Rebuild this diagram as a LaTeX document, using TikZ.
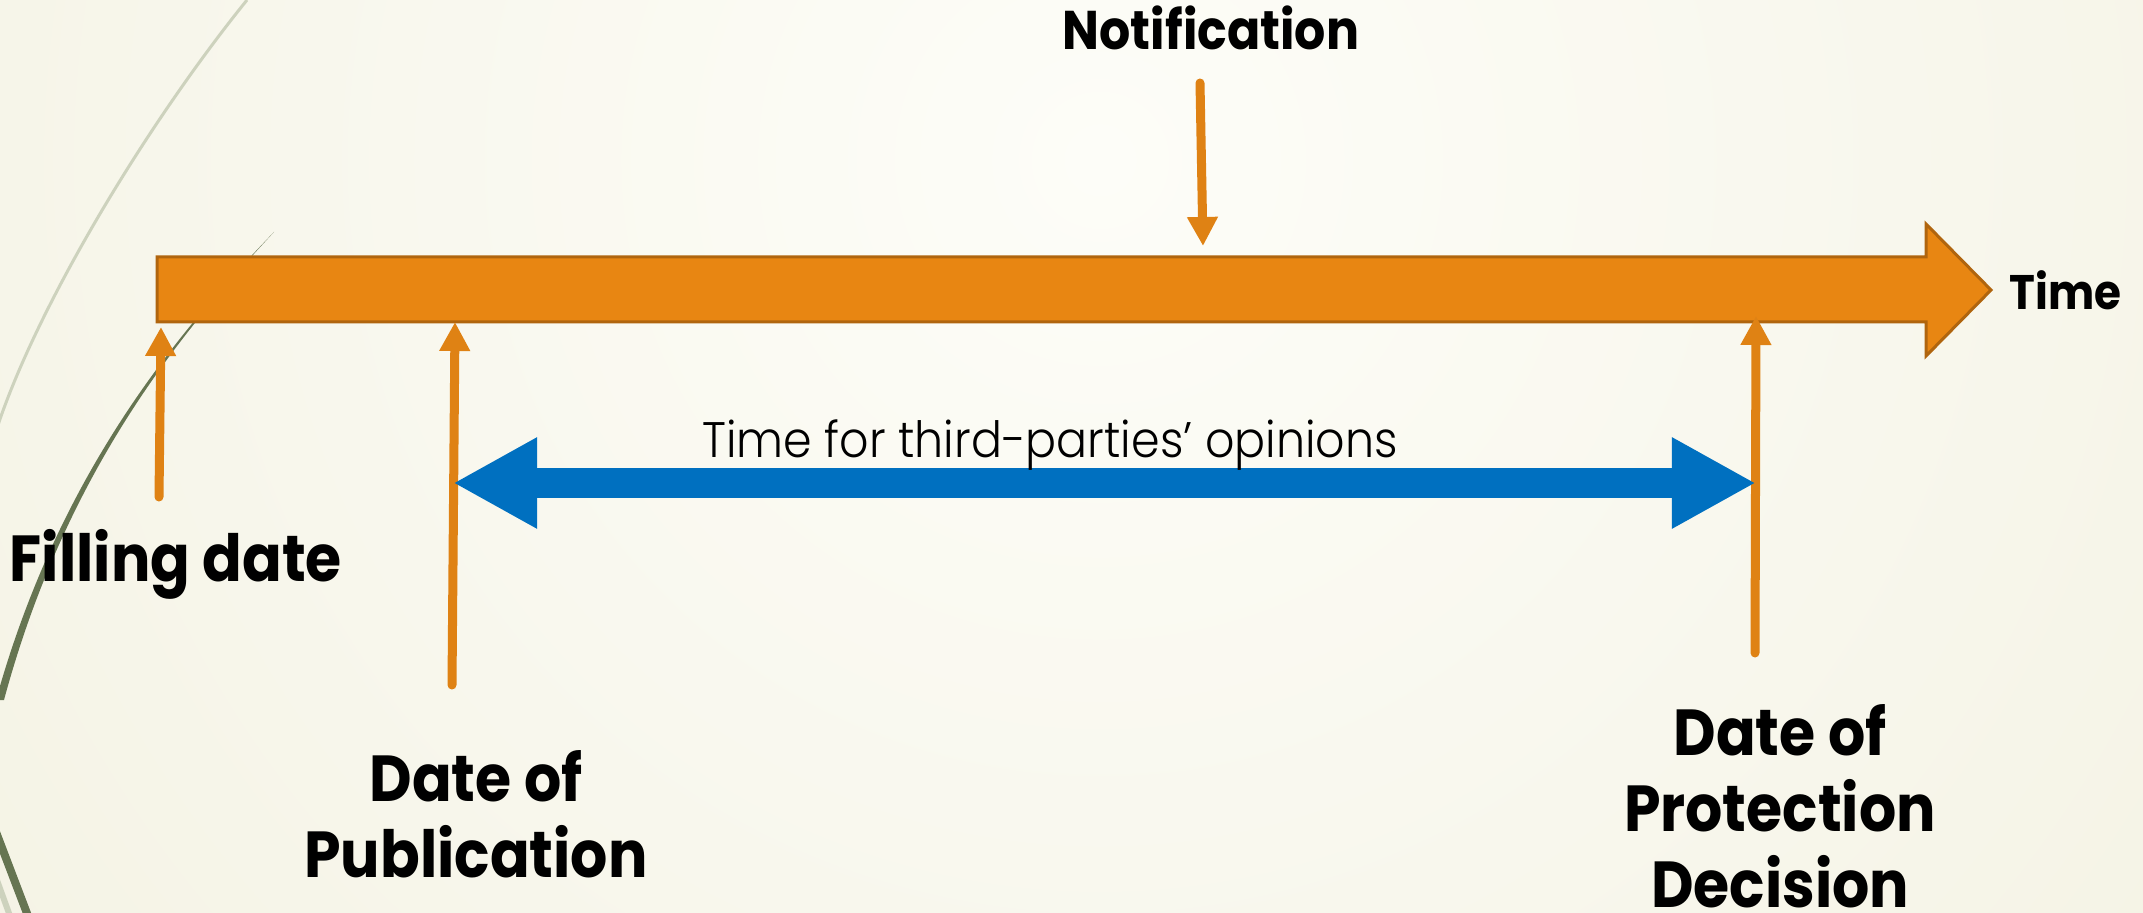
\documentclass[tikz,border=0pt]{standalone}
\usepackage{fontspec}
\setmainfont{Poppins}[FakeStretch=0.9]
\newfontfamily\thinfont{Poppins}[UprightFont=* Light, FakeStretch=0.92]
\usepackage{tikz}
\usetikzlibrary{arrows.meta,positioning,calc}
\definecolor{paper}{RGB}{237,234,212}
\definecolor{paperlight}{RGB}{253,253,248}
\definecolor{barorange}{RGB}{232,134,18}
\definecolor{baredge}{RGB}{176,101,14}
\definecolor{tickorange}{RGB}{223,130,20}
\definecolor{spanblue}{RGB}{0,112,192}
\definecolor{wispdark}{RGB}{102,117,82}
\definecolor{wisplight}{RGB}{205,210,189}
\tikzset{
    timebar/.style={
        fill=barorange,
        draw=baredge,
        line width=0.03cm
    },
    marker/.style={
        -{Triangle[width=0.29cm,length=0.29cm]},
        draw=tickorange,
        line width=0.09cm,
        line cap=round
    },
    span/.style={
        {Triangle[width=0.85cm,length=0.84cm]}-{Triangle[width=0.85cm,length=0.84cm]},
        draw=spanblue,
        line width=0.29cm
    },
    biglabel/.style={
        inner sep=0pt,
        align=center,
        font=\bfseries\fontsize{18.5}{21.5}\selectfont
    }
}

\begin{document}
\begin{tikzpicture}[x=0.01cm, y=-0.01cm]
\useasboundingbox (0,0) rectangle (2143,913);

% background and wisps
\begin{scope}
\clip (0,0) rectangle (2143,913);
\shade[inner color=paperlight, outer color=paper] (1100,160) circle (2600);
\draw[wisplight, line width=0.03cm] (247,0) .. controls (150,120) and (40,300) .. (-2,425);
\fill[wispdark] (274,232) .. controls (180,330) and (60,470) .. (-4,700) -- (4,700) .. controls (66,470) and (182,331) .. (274,232) -- cycle;
\draw[wisplight, line width=0.06cm] (-6,872) -- (10,916);
\draw[wispdark, line width=0.08cm] (-4,832) -- (28,916);
\end{scope}

% Time bar
\draw[timebar] (157,257) -- (1926,257) -- (1926,224) -- (1991,290) coordinate (bar-tip)
    -- (1926,356) -- (1926,322) -- (157,322) -- cycle;
\node[inner sep=0pt, right=0.18cm of bar-tip, font=\bfseries\fontsize{13.8}{16}\selectfont] (time) {Time};

% Notification
\node[inner sep=0pt, anchor=base, font=\bfseries\fontsize{15.5}{18}\selectfont] (notification) at (1211,50) {Notification};
\coordinate (notif-foot) at (1200,83);
\coordinate (notif-hit) at (1203,246);
\draw[marker] (notif-foot) -- (notif-hit);

% Filling date
\node[biglabel, anchor=base] (filing) at (176,581) {Filling date};
\coordinate (filing-foot) at (159,497);
\coordinate (filing-hit) at (161,327);
\draw[marker] (filing-foot) -- (filing-hit);

% Date of Publication
\node[biglabel, anchor=base] (publication) at (476,877) {Date of\\Publication};
\coordinate (pub-foot) at (452,685);
\coordinate (pub-hit) at (455,322);
\draw[marker] (pub-foot) -- (pub-hit);

% Date of Protection Decision
\node[biglabel, anchor=base] (protection) at (1780,907) {Date of\\Protection\\Decision};
\coordinate (prot-foot) at (1755,653);
\coordinate (prot-hit) at (1756,316);
\draw[marker] (prot-foot) -- (prot-hit);

% third-party window
\coordinate (span-start) at (453,483);
\coordinate (span-end) at (1756,483);
\draw[span] (span-start) -- (span-end);
\node[inner sep=0pt, anchor=base, font=\thinfont\fontsize{14.2}{17}\selectfont] (span-label) at (1050,458) {Time for third-parties’ opinions};
\end{tikzpicture}
\end{document}
